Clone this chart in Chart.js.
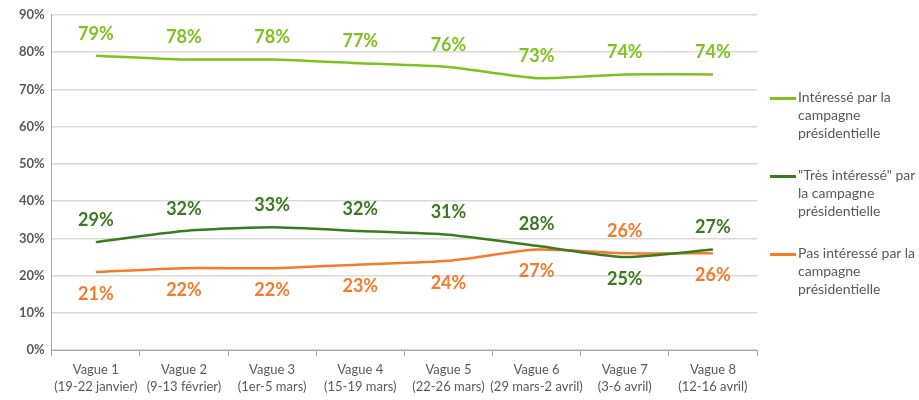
<!DOCTYPE html>
<html>
<head>
<meta charset="utf-8">
<script src="https://cdn.jsdelivr.net/npm/chart.js@4"></script>
<style>
    body { margin: 0; background: #fff; }
    #wrap { position: relative; width: 919px; height: 400px; }
    #legend { position: absolute; left: 770px; top: 88px; font-family: Lato, sans-serif; font-size: 14px; color: #595959; }
    .item { position: relative; padding-left: 28px; line-height: 18px; width: 125px; margin-bottom: 24px; }
    .item span { position: absolute; left: 0; top: 9px; width: 26px; height: 2.5px; }
</style>
</head>
<body>
<div id="wrap">
    <canvas id="chart" width="919" height="400"></canvas>
    <div id="legend"></div>
</div>
<script>
const waves = [
    ['Vague 1', '(19-22 janvier)'],
    ['Vague 2', '(9-13 février)'],
    ['Vague 3', '(1er-5 mars)'],
    ['Vague 4', '(15-19 mars)'],
    ['Vague 5', '(22-26 mars)'],
    ['Vague 6', '(29 mars-2 avril)'],
    ['Vague 7', '(3-6 avril)'],
    ['Vague 8', '(12-16 avril)']
];
const interesse = [79, 78, 78, 77, 76, 73, 74, 74];
const tresInteresse = [29, 32, 33, 32, 31, 28, 25, 27];
const pasInteresse = [21, 22, 22, 23, 24, 27, 26, 26];

const seriesNames = [
    'Intéressé par la campagne présidentielle',
    '"Très intéressé" par la campagne présidentielle',
    'Pas intéressé par la campagne présidentielle'
];
const colors = ['#7dc21e', '#3b7a1e', '#f47a2c'];
// where each value label sits relative to its point: -1 above, 1 below
const labelSide = [
    [-1, -1, -1, -1, -1, -1, -1, -1],
    [-1, -1, -1, -1, -1, -1, 1, -1],
    [1, 1, 1, 1, 1, 1, -1, 1]
];

const valueLabels = {
    id: 'valueLabels',
    afterDatasetsDraw(chart) {
        const ctx = chart.ctx;
        ctx.save();
        ctx.font = 'bold 18px Lato, sans-serif';
        ctx.textAlign = 'center';
        ctx.textBaseline = 'middle';
        chart.data.datasets.forEach((ds, i) => {
            ctx.fillStyle = ds.borderColor;
            chart.getDatasetMeta(i).data.forEach((pt, j) => {
                const side = labelSide[i][j];
                const off = side < 0 ? -22 : 22;
                ctx.fillText(ds.data[j] + '%', pt.x, pt.y + off);
            });
        });
        ctx.restore();
    }
};

const allSeries = [interesse, tresInteresse, pasInteresse];

new Chart(document.getElementById('chart'), {
    type: 'line',
    data: {
        labels: waves,
        datasets: allSeries.map((values, i) => ({
            label: seriesNames[i],
            data: values,
            borderColor: colors[i],
            borderWidth: 2.5,
            pointRadius: 0,
            tension: 0.2,
            fill: false
        }))
    },
    options: {
        responsive: false,
        animation: false,
        layout: { padding: { top: 13, right: 162, left: 12, bottom: 0 } },
        plugins: { legend: { display: false }, tooltip: { enabled: false } },
        scales: {
            x: {
                offset: true,
                grid: { offset: true, drawOnChartArea: false, color: '#a6a6a6', tickLength: 6 },
                border: { color: '#a6a6a6' },
                ticks: { color: '#595959', font: { family: 'Lato', size: 13, lineHeight: 1.3 }, padding: 5, maxRotation: 0, autoSkip: false }
            },
            y: {
                min: 0,
                max: 90,
                ticks: {
                    stepSize: 10,
                    color: '#595959',
                    font: { family: 'Lato', size: 13, weight: 'bold' },
                    padding: 7,
                    callback: v => v + '%'
                },
                grid: { color: '#d9d9d9', lineWidth: 1.5, drawTicks: false },
                border: { color: '#a6a6a6' }
            }
        }
    },
    plugins: [valueLabels]
});

const legend = document.getElementById('legend');
seriesNames.forEach((name, i) => {
    const d = document.createElement('div');
    d.className = 'item';
    d.innerHTML = `<span style="background:${colors[i]}"></span>${name}`;
    legend.appendChild(d);
});
</script>
</body>
</html>
